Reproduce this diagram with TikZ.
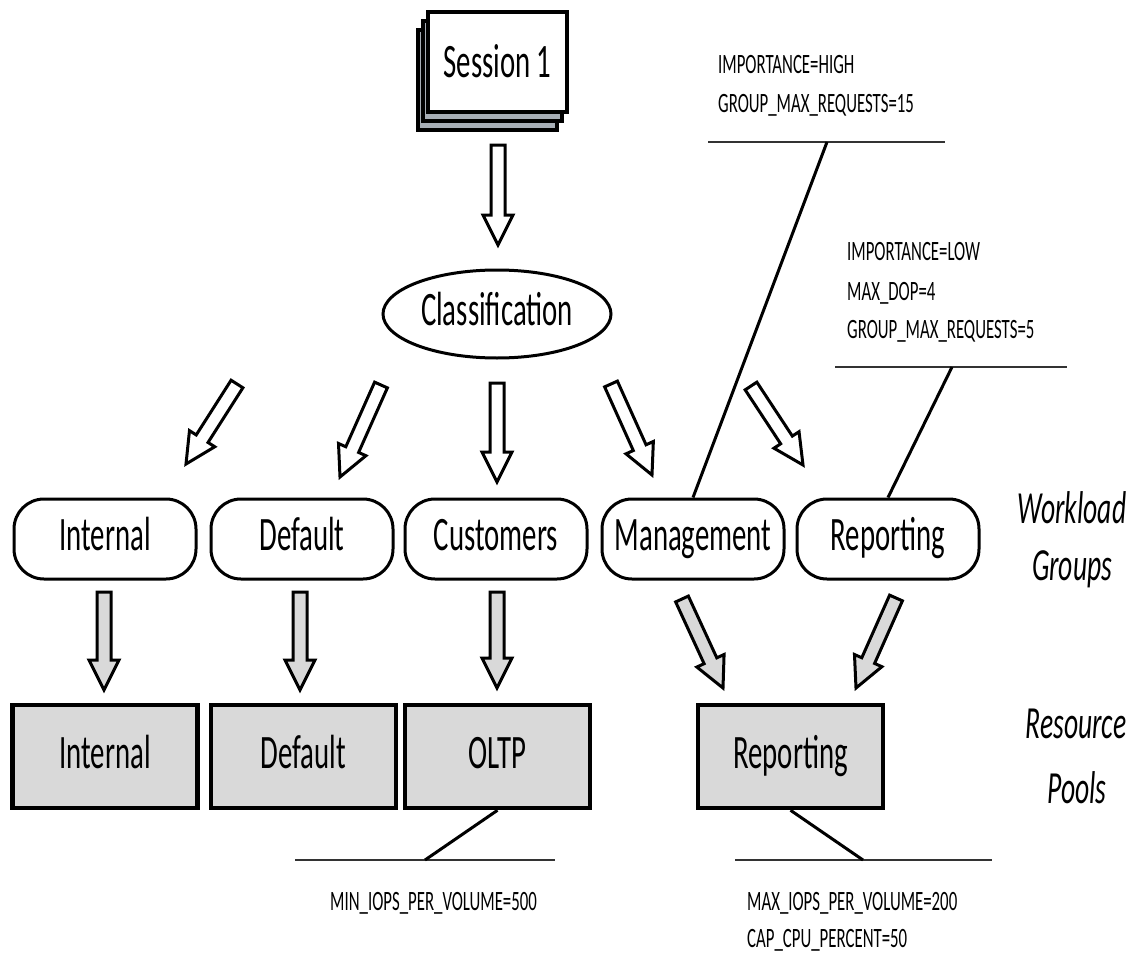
\documentclass[tikz,border=0pt]{standalone}
\usepackage{fontspec}
\setmainfont{Carlito}[FakeStretch=0.6]
\usetikzlibrary{calc,shapes.geometric}
\definecolor{poolgray}{HTML}{D9D9D9}
\definecolor{stackgray}{HTML}{A7AEB6}

\tikzset{
  lbl/.style={font=\fontsize{48}{54}\selectfont, text height=31pt, text depth=8pt, inner sep=0pt},
  wgroup/.style={lbl, draw=black, line width=3pt, fill=white, rounded corners=30pt,
                 minimum width=182pt, minimum height=80pt},
  rpool/.style={lbl, draw=black, line width=4.5pt, fill=poolgray,
                minimum width=185pt, minimum height=103pt},
  sessbox/.style={lbl, draw=black, line width=4pt, fill=white, text depth=0pt,
                  minimum width=139pt, minimum height=100pt},
  sessback/.style={sessbox, fill=stackgray},
  classbox/.style={lbl, ellipse, draw=black, line width=3pt, fill=white,
                   minimum width=228pt, minimum height=88pt},
  notetext/.style={font=\fontsize{28}{32}\selectfont, inner sep=0pt, anchor=base west},
  sidelabel/.style={font=\fontsize{46}{50}\selectfont\itshape, inner sep=0pt, anchor=base},
  leaderline/.style={line width=3pt},
  noteline/.style={line width=1.5pt, draw=black!80},
  hollowarr/.style={draw=black, line width=3pt, fill=white, line join=miter},
  grayarr/.style={draw=black, line width=3pt, fill=poolgray, line join=miter},
}

% block arrow: style, tail coordinate, tip coordinate
\newcommand\blockarrow[3]{%
  \coordinate (ba-neck) at ($(#3)!30pt!(#2)$);
  \draw[#1] ($(#2)!7pt!90:(#3)$) -- ($(ba-neck)!7pt!90:(#3)$)
    -- ($(ba-neck)!15pt!90:(#3)$) -- (#3)
    -- ($(ba-neck)!15pt!-90:(#3)$) -- ($(ba-neck)!7pt!-90:(#3)$)
    -- ($(#2)!7pt!-90:(#3)$) -- cycle;}

\begin{document}
\begin{tikzpicture}[x=1pt, y=-1pt]
\useasboundingbox (0,0) rectangle (1135,953);

% session stack
\node[sessback] (s3) at (487.5,80) {};
\node[sessback] (s2) at (492.5,71) {};
\node[sessbox]  (s1) at (497.5,62) {Session 1};

% classifier
\node[classbox] (cls) at (497,314) {Classification};

% workload groups
\node[wgroup] (gInt)  at (105,539) {Internal};
\node[wgroup] (gDef)  at (302,539) {Default};
\node[wgroup] (gCust) at (496,539) {Customers};
\node[wgroup] (gMgmt) at (693,539) {Management};
\node[wgroup] (gRep)  at (888,539) {Reporting};

% resource pools
\node[rpool] (pInt)  at (105,756.5)   {Internal};
\node[rpool] (pDef)  at (303.5,756.5) {Default};
\node[rpool] (pOltp) at (497.5,756.5) {OLTP};
\node[rpool] (pRep)  at (790.5,756.5) {Reporting};

% side captions
\node[sidelabel] (wl1) at (1072,523) {Workload};
\node[sidelabel] (wl2) at (1072,580) {Groups};
\node[sidelabel] (rp1) at (1076,738) {Resource};
\node[sidelabel] (rp2) at (1077,803) {Pools};

% arrow end points
\coordinate (aS0) at (498,145); \coordinate (aS1) at (498,245);
\coordinate (c1s) at (237,384); \coordinate (c1e) at (186,464);
\coordinate (c2s) at (381,385); \coordinate (c2e) at (340,477);
\coordinate (c3s) at (497,383); \coordinate (c3e) at (497,482);
\coordinate (c4s) at (611,384); \coordinate (c4e) at (652,475);
\coordinate (c5s) at (751,386); \coordinate (c5e) at (803,465);
\coordinate (g1s) at (104,592); \coordinate (g1e) at (104,690);
\coordinate (g2s) at (300,592); \coordinate (g2e) at (300,690);
\coordinate (g3s) at (497,592); \coordinate (g3e) at (497,688);
\coordinate (g4s) at (682,599); \coordinate (g4e) at (723,688);
\coordinate (g5s) at (896,598); \coordinate (g5e) at (856,688);

\blockarrow{hollowarr}{aS0}{aS1}
\blockarrow{hollowarr}{c1s}{c1e}
\blockarrow{hollowarr}{c2s}{c2e}
\blockarrow{hollowarr}{c3s}{c3e}
\blockarrow{hollowarr}{c4s}{c4e}
\blockarrow{hollowarr}{c5s}{c5e}
\blockarrow{grayarr}{g1s}{g1e}
\blockarrow{grayarr}{g2s}{g2e}
\blockarrow{grayarr}{g3s}{g3e}
\blockarrow{grayarr}{g4s}{g4e}
\blockarrow{grayarr}{g5s}{g5e}

% Management group settings
\node[notetext] (m1) at (718,73)  {IMPORTANCE=HIGH};
\node[notetext] (m2) at (718,112) {GROUP\_MAX\_REQUESTS=15};
\coordinate (mL) at (708,142); \coordinate (mR) at (945,142); \coordinate (mK) at (827,142);
\draw[noteline] (mL) -- (mR);
\draw[leaderline] (gMgmt.north) -- (mK);

% Reporting group settings
\node[notetext] (r1) at (847,260) {IMPORTANCE=LOW};
\node[notetext] (r2) at (847,300) {MAX\_DOP=4};
\node[notetext] (r3) at (847,338) {GROUP\_MAX\_REQUESTS=5};
\coordinate (rL) at (835,367); \coordinate (rR) at (1067,367); \coordinate (rK) at (952,367);
\draw[noteline] (rL) -- (rR);
\draw[leaderline] (gRep.north) -- (rK);

% OLTP pool settings
\node[notetext] (o1) at (330,910) {MIN\_IOPS\_PER\_VOLUME=500};
\coordinate (oL) at (295,860); \coordinate (oR) at (555,860); \coordinate (oK) at (425,860);
\draw[noteline] (oL) -- (oR);
\draw[leaderline] (pOltp.south) -- (oK);

% Reporting pool settings
\node[notetext] (q1) at (747,910) {MAX\_IOPS\_PER\_VOLUME=200};
\node[notetext] (q2) at (747,947) {CAP\_CPU\_PERCENT=50};
\coordinate (qL) at (735,860); \coordinate (qR) at (992,860); \coordinate (qK) at (863,860);
\draw[noteline] (qL) -- (qR);
\draw[leaderline] (pRep.south) -- (qK);

\end{tikzpicture}
\end{document}
